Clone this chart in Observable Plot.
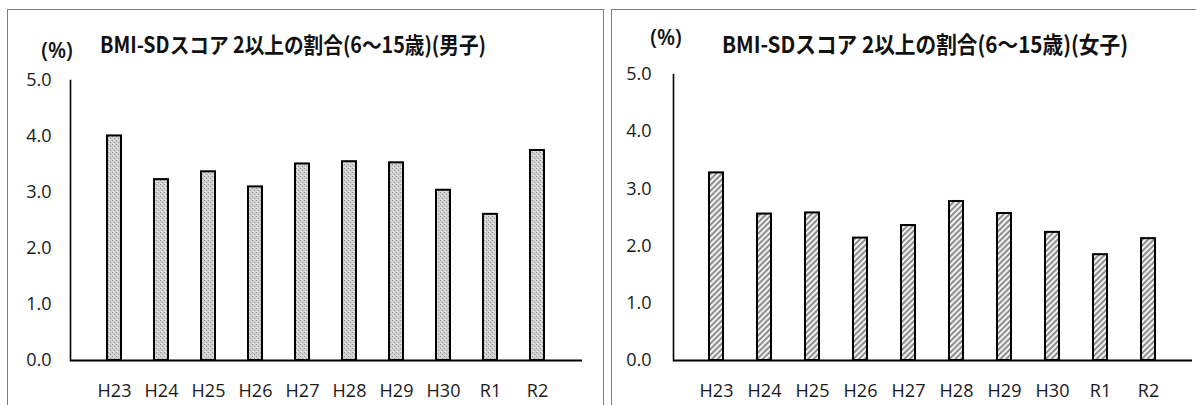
<!DOCTYPE html>
<html>
<head>
<meta charset="utf-8">
<script src="https://cdn.jsdelivr.net/npm/d3@7"></script>
<script src="https://cdn.jsdelivr.net/npm/@observablehq/plot@0.6"></script>
<style>
  html, body { margin: 0; padding: 0; background: #fff; }
  #root { position: relative; width: 1196px; height: 405px; overflow: hidden; background: #fff; }
  .panel { position: absolute; border: 1.5px solid #7d7d7d; box-sizing: border-box; }
  .chart { position: absolute; top: 0; }
  #overlay { position: absolute; left: 0; top: 0; }
</style>
</head>
<body>
<div id="root">
  <div class="panel" style="left:7px; top:9px; width:597px; height:420px;"></div>
  <div class="panel" style="left:611px; top:9px; width:600px; height:420px;"></div>
  <div id="left" class="chart" style="left:0px;"></div>
  <div id="right" class="chart" style="left:600px;"></div>
  <svg id="overlay" width="1196" height="405"></svg>
</div>
<script>
const categories = ["H23", "H24", "H25", "H26", "H27", "H28", "H29", "H30", "R1", "R2"];
const boysValues = [4.01, 3.23, 3.37, 3.10, 3.51, 3.55, 3.53, 3.04, 2.61, 3.75];
const girlsValues = [3.28, 2.56, 2.58, 2.14, 2.36, 2.78, 2.57, 2.24, 1.85, 2.13];
const yTicks = [0, 1, 2, 3, 4, 5];
const titleBoys = "BMI-SDスコア 2以上の割合(6〜15歳)(男子)";
const titleGirls = "BMI-SDスコア 2以上の割合(6〜15歳)(女子)";
const unitLabel = "(%)";

const tickFont = "'Open Sans', 'Noto Sans', sans-serif";

function makeChart(values, opts) {
  const data = categories.map((c, i) => ({cat: c, v: values[i]}));
  const chart = Plot.plot({
    width: opts.width,
    height: 405,
    marginLeft: opts.marginLeft,
    marginRight: opts.marginRight,
    marginTop: opts.marginTop,
    marginBottom: 45,
    style: {fontFamily: tickFont, fontSize: "18px", color: "#1a1a1a", background: "transparent", overflow: "visible"},
    x: {domain: categories, padding: 0.7, label: null},
    y: {domain: [0, 5], label: null},
    marks: [
      Plot.axisY({ticks: yTicks, tickFormat: d3.format(".1f"), tickSize: 0, tickPadding: opts.yPad, fontSize: 18, label: null}),
      Plot.axisX({tickSize: 0, tickPadding: 24, fontSize: 18, label: null}),
      Plot.barY(data, {x: "cat", y: "v", fill: opts.fill, stroke: "#000", strokeWidth: 2}),
      Plot.frame({anchor: "left", stroke: "#000", strokeWidth: 1.6}),
      Plot.ruleY([0], {stroke: "#000", strokeWidth: 2})
    ]
  });
  return chart;
}

function addDefs(svg) {
  const ns = "http://www.w3.org/2000/svg";
  const defs = document.createElementNS(ns, "defs");
  defs.innerHTML = `
    <pattern id="dots" patternUnits="userSpaceOnUse" width="4" height="4">
      <rect width="4" height="4" fill="#d0d0d0"/>
      <rect x="0" y="0" width="1" height="1" fill="#959595"/>
      <rect x="2" y="2" width="1" height="1" fill="#959595"/>
      <rect x="1" y="3" width="1" height="1" fill="#f4f4f4"/>
    </pattern>
    <pattern id="hatch" patternUnits="userSpaceOnUse" width="4" height="4" patternTransform="rotate(45)">
      <rect width="4" height="4" fill="#f2f2f2"/>
      <rect x="0" y="0" width="2" height="4" fill="#8f8f8f"/>
    </pattern>`;
  svg.insertBefore(defs, svg.firstChild);
}

const left = makeChart(boysValues, {width: 600, marginLeft: 70, marginRight: 18, marginTop: 80, yPad: 19, fill: "url(#dots)"});
addDefs(left);
document.getElementById("left").appendChild(left);

const right = makeChart(girlsValues, {width: 596, marginLeft: 73, marginRight: 4, marginTop: 74, yPad: 22, fill: "url(#hatch)"});
addDefs(right);
document.getElementById("right").appendChild(right);

// titles and unit labels
const ov = d3.select("#overlay");
const titleFont = "'Noto Sans CJK JP', 'Noto Sans', sans-serif";
ov.append("text").attr("x", 100).attr("y", 47).attr("dominant-baseline", "middle")
  .attr("font-family", titleFont).attr("font-weight", "bold").attr("font-size", 22)
  .attr("textLength", 386).attr("lengthAdjust", "spacingAndGlyphs").attr("fill", "#111")
  .text(titleBoys);
ov.append("text").attr("x", 722).attr("y", 47).attr("dominant-baseline", "middle")
  .attr("font-family", titleFont).attr("font-weight", "bold").attr("font-size", 23)
  .attr("textLength", 406).attr("lengthAdjust", "spacingAndGlyphs").attr("fill", "#111")
  .text(titleGirls);
ov.append("text").attr("x", 57).attr("y", 52).attr("dominant-baseline", "middle").attr("text-anchor", "middle")
  .attr("font-family", tickFont).attr("font-weight", 600).attr("font-size", 21).attr("fill", "#111")
  .text(unitLabel);
ov.append("text").attr("x", 666).attr("y", 39).attr("dominant-baseline", "middle").attr("text-anchor", "middle")
  .attr("font-family", tickFont).attr("font-weight", 600).attr("font-size", 21).attr("fill", "#111")
  .text(unitLabel);
</script>
</body>
</html>
